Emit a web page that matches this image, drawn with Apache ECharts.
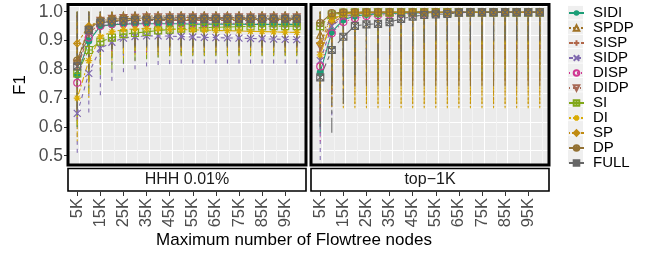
<!DOCTYPE html>
<html><head><meta charset="utf-8">
<script src="https://cdn.jsdelivr.net/npm/echarts@6/dist/echarts.min.js"></script>
<style>html,body{margin:0;padding:0;background:#fff}#c{width:656px;height:254px}</style>
</head><body><div id="c"></div>
<script>
// ---------------- DATA ----------------
const nodesK = [5,10,15,20,25,30,35,40,45,50,55,60,65,70,75,80,85,90,95,100];
const xTickValues = [5,15,25,35,45,55,65,75,85,95];
const xTickLabels = ['5K','15K','25K','35K','45K','55K','65K','75K','85K','95K'];
const yTickValues = [0.5,0.6,0.7,0.8,0.9,1.0];
const yTickLabels = ['0.5','0.6','0.7','0.8','0.9','1.0'];
const panelNames = ['HHH 0.01%','top\u22121K'];
const seriesNames = ['SIDI','SPDP','SISP','SIDP','DISP','DIDP','SI','DI','SP','DP','FULL'];

// HHH 0.01% : mean F1
const hhhMean_SIDI = [0.780,0.898,0.950,0.955,0.957,0.958,0.958,0.958,0.958,0.958,0.957,0.957,0.957,0.957,0.957,0.956,0.956,0.956,0.956,0.956];
const hhhMean_SPDP = [0.830,0.945,0.975,0.980,0.983,0.984,0.985,0.985,0.985,0.985,0.985,0.985,0.985,0.985,0.985,0.985,0.985,0.985,0.985,0.985];
const hhhMean_SISP = [0.800,0.925,0.960,0.966,0.968,0.969,0.970,0.970,0.970,0.970,0.970,0.970,0.970,0.970,0.969,0.969,0.969,0.969,0.969,0.969];
const hhhMean_SIDP = [0.647,0.786,0.873,0.894,0.908,0.914,0.916,0.916,0.915,0.914,0.912,0.911,0.910,0.909,0.908,0.907,0.906,0.905,0.904,0.903];
const hhhMean_DISP = [0.753,0.910,0.950,0.957,0.959,0.960,0.960,0.960,0.960,0.960,0.960,0.960,0.960,0.960,0.959,0.959,0.959,0.959,0.959,0.959];
const hhhMean_DIDP = [0.820,0.935,0.968,0.975,0.978,0.979,0.980,0.980,0.980,0.980,0.980,0.980,0.980,0.980,0.980,0.980,0.980,0.980,0.980,0.980];
const hhhMean_SI   = [0.786,0.867,0.896,0.910,0.922,0.926,0.930,0.935,0.938,0.941,0.943,0.945,0.946,0.947,0.948,0.949,0.949,0.950,0.950,0.950];
const hhhMean_DI   = [0.700,0.830,0.913,0.930,0.938,0.940,0.941,0.940,0.939,0.938,0.937,0.936,0.935,0.934,0.933,0.932,0.931,0.930,0.929,0.928];
const hhhMean_SP   = [0.890,0.950,0.965,0.969,0.971,0.972,0.973,0.973,0.973,0.973,0.973,0.973,0.973,0.973,0.973,0.973,0.973,0.973,0.973,0.973];
const hhhMean_DP   = [0.830,0.940,0.968,0.974,0.976,0.977,0.978,0.978,0.978,0.978,0.978,0.978,0.978,0.978,0.978,0.978,0.978,0.978,0.978,0.978];
const hhhMean_FULL = [0.810,0.935,0.962,0.966,0.968,0.970,0.972,0.973,0.974,0.975,0.975,0.975,0.975,0.975,0.975,0.975,0.975,0.975,0.975,0.975];
// HHH 0.01% : error bar low
const hhhLow_SIDI = [0.600,0.760,0.820,0.840,0.850,0.855,0.860,0.860,0.860,0.860,0.860,0.860,0.860,0.860,0.860,0.860,0.860,0.860,0.860,0.860];
const hhhLow_SPDP = [0.660,0.800,0.860,0.870,0.875,0.880,0.880,0.880,0.880,0.880,0.880,0.880,0.880,0.880,0.880,0.880,0.880,0.880,0.880,0.880];
const hhhLow_SISP = [0.620,0.750,0.820,0.840,0.850,0.855,0.857,0.857,0.857,0.857,0.857,0.857,0.857,0.857,0.857,0.857,0.857,0.857,0.857,0.857];
const hhhLow_SIDP = [0.510,0.650,0.710,0.760,0.790,0.800,0.810,0.815,0.818,0.820,0.820,0.820,0.820,0.820,0.820,0.820,0.820,0.820,0.820,0.820];
const hhhLow_DISP = [0.630,0.780,0.830,0.850,0.860,0.860,0.860,0.860,0.860,0.860,0.860,0.860,0.860,0.860,0.860,0.860,0.860,0.860,0.860,0.860];
const hhhLow_DIDP = [0.650,0.790,0.850,0.860,0.870,0.870,0.870,0.870,0.870,0.870,0.870,0.870,0.870,0.870,0.870,0.870,0.870,0.870,0.870,0.870];
const hhhLow_SI   = [0.600,0.720,0.780,0.800,0.820,0.830,0.835,0.840,0.845,0.845,0.845,0.845,0.845,0.845,0.845,0.845,0.845,0.845,0.845,0.845];
const hhhLow_DI   = [0.550,0.700,0.800,0.830,0.840,0.850,0.850,0.850,0.850,0.850,0.850,0.850,0.850,0.850,0.850,0.850,0.850,0.850,0.850,0.850];
const hhhLow_SP   = [0.720,0.840,0.870,0.880,0.885,0.885,0.885,0.885,0.885,0.885,0.885,0.885,0.885,0.885,0.885,0.885,0.885,0.885,0.885,0.885];
const hhhLow_DP   = [0.660,0.800,0.860,0.870,0.875,0.875,0.875,0.875,0.875,0.875,0.875,0.875,0.875,0.875,0.875,0.875,0.875,0.875,0.875,0.875];
const hhhLow_FULL = [0.640,0.800,0.860,0.870,0.880,0.880,0.880,0.880,0.880,0.880,0.880,0.880,0.880,0.880,0.880,0.880,0.880,0.880,0.880,0.880];
// HHH 0.01% : error bar high
const hhhHigh_SIDI = [1.000,1.000,1.000,1.000,1.000,1.000,1.000,1.000,1.000,1.000,1.000,1.000,1.000,1.000,1.000,1.000,1.000,1.000,1.000,1.000];
const hhhHigh_SPDP = [1.000,1.000,1.000,1.000,1.000,1.000,1.000,1.000,1.000,1.000,1.000,1.000,1.000,1.000,1.000,1.000,1.000,1.000,1.000,1.000];
const hhhHigh_SISP = [1.000,1.000,1.000,1.000,1.000,1.000,1.000,1.000,1.000,1.000,1.000,1.000,1.000,1.000,1.000,1.000,1.000,1.000,1.000,1.000];
const hhhHigh_SIDP = [0.990,0.990,0.990,0.990,0.990,0.990,0.990,0.990,0.990,0.990,0.990,0.990,0.990,0.990,0.990,0.990,0.990,0.990,0.990,0.990];
const hhhHigh_DISP = [1.000,1.000,1.000,1.000,1.000,1.000,1.000,1.000,1.000,1.000,1.000,1.000,1.000,1.000,1.000,1.000,1.000,1.000,1.000,1.000];
const hhhHigh_DIDP = [1.000,1.000,1.000,1.000,1.000,1.000,1.000,1.000,1.000,1.000,1.000,1.000,1.000,1.000,1.000,1.000,1.000,1.000,1.000,1.000];
const hhhHigh_SI   = [1.000,1.000,1.000,1.000,1.000,1.000,1.000,1.000,1.000,1.000,1.000,1.000,1.000,1.000,1.000,1.000,1.000,1.000,1.000,1.000];
const hhhHigh_DI   = [0.995,0.995,0.995,0.995,0.995,0.995,0.995,0.995,0.995,0.995,0.995,0.995,0.995,0.995,0.995,0.995,0.995,0.995,0.995,0.995];
const hhhHigh_SP   = [1.000,1.000,1.000,1.000,1.000,1.000,1.000,1.000,1.000,1.000,1.000,1.000,1.000,1.000,1.000,1.000,1.000,1.000,1.000,1.000];
const hhhHigh_DP   = [1.000,1.000,1.000,1.000,1.000,1.000,1.000,1.000,1.000,1.000,1.000,1.000,1.000,1.000,1.000,1.000,1.000,1.000,1.000,1.000];
const hhhHigh_FULL = [1.000,1.000,1.000,1.000,1.000,1.000,1.000,1.000,1.000,1.000,1.000,1.000,1.000,1.000,1.000,1.000,1.000,1.000,1.000,1.000];

// top-1K : mean F1
const topMean_SIDI = [0.790,0.930,0.972,0.985,0.990,0.992,0.994,0.995,0.996,0.996,0.997,0.997,0.997,0.998,0.998,0.998,0.998,0.998,0.998,0.998];
const topMean_SPDP = [0.920,0.975,0.992,0.996,0.997,0.998,0.998,0.998,0.998,0.998,0.998,0.998,0.998,0.998,0.998,0.998,0.998,0.998,0.998,0.998];
const topMean_SISP = [0.860,0.960,0.985,0.992,0.995,0.996,0.997,0.997,0.998,0.998,0.998,0.998,0.998,0.998,0.998,0.998,0.998,0.998,0.998,0.998];
const topMean_SIDP = [0.830,0.950,0.982,0.990,0.994,0.996,0.997,0.997,0.998,0.998,0.998,0.998,0.998,0.998,0.998,0.998,0.998,0.998,0.998,0.998];
const topMean_DISP = [0.810,0.925,0.964,0.977,0.985,0.988,0.990,0.992,0.993,0.994,0.995,0.996,0.996,0.997,0.997,0.997,0.998,0.998,0.998,0.998];
const topMean_DIDP = [0.880,0.970,0.990,0.995,0.997,0.998,0.998,0.998,0.998,0.998,0.998,0.998,0.998,0.998,0.998,0.998,0.998,0.998,0.998,0.998];
const topMean_SI   = [0.950,0.990,0.997,0.998,0.998,0.998,0.998,0.998,0.998,0.998,0.998,0.998,0.998,0.998,0.998,0.998,0.998,0.998,0.998,0.998];
const topMean_DI   = [0.850,0.970,0.992,0.996,0.997,0.998,0.998,0.998,0.998,0.998,0.998,0.998,0.998,0.998,0.998,0.998,0.998,0.998,0.998,0.998];
const topMean_SP   = [0.890,0.985,0.997,0.998,0.998,0.998,0.998,0.998,0.998,0.998,0.998,0.998,0.998,0.998,0.998,0.998,0.998,0.998,0.998,0.998];
const topMean_DP   = [0.960,0.995,0.998,0.999,0.999,0.999,0.999,0.999,0.999,0.999,0.999,0.999,0.999,0.999,0.999,0.999,0.999,0.999,0.999,0.999];
const topMean_FULL = [0.772,0.867,0.913,0.951,0.956,0.958,0.964,0.975,0.983,0.989,0.991,0.992,0.997,0.998,0.998,0.998,0.998,0.998,0.998,0.998];
// top-1K : error bar low
const topLow_SIDI = [0.580,0.760,0.840,0.860,0.870,0.880,0.880,0.880,0.885,0.890,0.890,0.890,0.890,0.890,0.890,0.890,0.890,0.890,0.890,0.890];
const topLow_SPDP = [0.700,0.740,0.780,0.800,0.800,0.800,0.800,0.800,0.800,0.800,0.800,0.800,0.800,0.800,0.800,0.800,0.800,0.800,0.800,0.800];
const topLow_SISP = [0.620,0.720,0.800,0.820,0.830,0.830,0.830,0.830,0.830,0.830,0.830,0.830,0.830,0.830,0.830,0.830,0.830,0.830,0.830,0.830];
const topLow_SIDP = [0.485,0.640,0.720,0.740,0.750,0.760,0.760,0.760,0.760,0.760,0.760,0.760,0.760,0.760,0.760,0.760,0.760,0.760,0.760,0.760];
const topLow_DISP = [0.550,0.700,0.800,0.830,0.840,0.850,0.850,0.850,0.850,0.850,0.850,0.850,0.850,0.850,0.850,0.850,0.850,0.850,0.850,0.850];
const topLow_DIDP = [0.640,0.740,0.790,0.810,0.820,0.820,0.820,0.820,0.820,0.820,0.820,0.820,0.820,0.820,0.820,0.820,0.820,0.820,0.820,0.820];
const topLow_SI   = [0.740,0.760,0.780,0.780,0.780,0.780,0.780,0.780,0.780,0.780,0.780,0.780,0.780,0.780,0.780,0.780,0.780,0.780,0.780,0.780];
const topLow_DI   = [0.680,0.670,0.665,0.665,0.665,0.665,0.665,0.665,0.665,0.665,0.665,0.665,0.665,0.665,0.665,0.665,0.665,0.665,0.665,0.665];
const topLow_SP   = [0.700,0.670,0.670,0.670,0.670,0.670,0.670,0.670,0.670,0.670,0.670,0.670,0.670,0.670,0.670,0.670,0.670,0.670,0.670,0.670];
const topLow_DP   = [0.720,0.730,0.740,0.740,0.740,0.740,0.740,0.740,0.740,0.740,0.740,0.740,0.740,0.740,0.740,0.740,0.740,0.740,0.740,0.740];
const topLow_FULL = [0.600,0.580,0.680,0.780,0.820,0.840,0.850,0.860,0.880,0.890,0.900,0.900,0.900,0.900,0.900,0.900,0.900,0.900,0.900,0.900];
// top-1K : error bar high
const topHigh_SIDI = [1.000,1.000,1.000,1.000,1.000,1.000,1.000,1.000,1.000,1.000,1.000,1.000,1.000,1.000,1.000,1.000,1.000,1.000,1.000,1.000];
const topHigh_SPDP = [1.000,1.000,1.000,1.000,1.000,1.000,1.000,1.000,1.000,1.000,1.000,1.000,1.000,1.000,1.000,1.000,1.000,1.000,1.000,1.000];
const topHigh_SISP = [1.000,1.000,1.000,1.000,1.000,1.000,1.000,1.000,1.000,1.000,1.000,1.000,1.000,1.000,1.000,1.000,1.000,1.000,1.000,1.000];
const topHigh_SIDP = [1.000,1.000,1.000,1.000,1.000,1.000,1.000,1.000,1.000,1.000,1.000,1.000,1.000,1.000,1.000,1.000,1.000,1.000,1.000,1.000];
const topHigh_DISP = [1.000,1.000,1.000,1.000,1.000,1.000,1.000,1.000,1.000,1.000,1.000,1.000,1.000,1.000,1.000,1.000,1.000,1.000,1.000,1.000];
const topHigh_DIDP = [1.000,1.000,1.000,1.000,1.000,1.000,1.000,1.000,1.000,1.000,1.000,1.000,1.000,1.000,1.000,1.000,1.000,1.000,1.000,1.000];
const topHigh_SI   = [1.000,1.000,1.000,1.000,1.000,1.000,1.000,1.000,1.000,1.000,1.000,1.000,1.000,1.000,1.000,1.000,1.000,1.000,1.000,1.000];
const topHigh_DI   = [1.000,1.000,1.000,1.000,1.000,1.000,1.000,1.000,1.000,1.000,1.000,1.000,1.000,1.000,1.000,1.000,1.000,1.000,1.000,1.000];
const topHigh_SP   = [1.000,1.000,1.000,1.000,1.000,1.000,1.000,1.000,1.000,1.000,1.000,1.000,1.000,1.000,1.000,1.000,1.000,1.000,1.000,1.000];
const topHigh_DP   = [1.000,1.000,1.000,1.000,1.000,1.000,1.000,1.000,1.000,1.000,1.000,1.000,1.000,1.000,1.000,1.000,1.000,1.000,1.000,1.000];
const topHigh_FULL = [1.000,1.000,1.000,1.000,1.000,1.000,1.000,1.000,1.000,1.000,1.000,1.000,1.000,1.000,1.000,1.000,1.000,1.000,1.000,1.000];

// ---------------- STYLE ----------------
const panelData = [
  {
    mean: {SIDI:hhhMean_SIDI,SPDP:hhhMean_SPDP,SISP:hhhMean_SISP,SIDP:hhhMean_SIDP,DISP:hhhMean_DISP,DIDP:hhhMean_DIDP,SI:hhhMean_SI,DI:hhhMean_DI,SP:hhhMean_SP,DP:hhhMean_DP,FULL:hhhMean_FULL},
    low:  {SIDI:hhhLow_SIDI,SPDP:hhhLow_SPDP,SISP:hhhLow_SISP,SIDP:hhhLow_SIDP,DISP:hhhLow_DISP,DIDP:hhhLow_DIDP,SI:hhhLow_SI,DI:hhhLow_DI,SP:hhhLow_SP,DP:hhhLow_DP,FULL:hhhLow_FULL},
    high: {SIDI:hhhHigh_SIDI,SPDP:hhhHigh_SPDP,SISP:hhhHigh_SISP,SIDP:hhhHigh_SIDP,DISP:hhhHigh_DISP,DIDP:hhhHigh_DIDP,SI:hhhHigh_SI,DI:hhhHigh_DI,SP:hhhHigh_SP,DP:hhhHigh_DP,FULL:hhhHigh_FULL}
  },
  {
    mean: {SIDI:topMean_SIDI,SPDP:topMean_SPDP,SISP:topMean_SISP,SIDP:topMean_SIDP,DISP:topMean_DISP,DIDP:topMean_DIDP,SI:topMean_SI,DI:topMean_DI,SP:topMean_SP,DP:topMean_DP,FULL:topMean_FULL},
    low:  {SIDI:topLow_SIDI,SPDP:topLow_SPDP,SISP:topLow_SISP,SIDP:topLow_SIDP,DISP:topLow_DISP,DIDP:topLow_DIDP,SI:topLow_SI,DI:topLow_DI,SP:topLow_SP,DP:topLow_DP,FULL:topLow_FULL},
    high: {SIDI:topHigh_SIDI,SPDP:topHigh_SPDP,SISP:topHigh_SISP,SIDP:topHigh_SIDP,DISP:topHigh_DISP,DIDP:topHigh_DIDP,SI:topHigh_SI,DI:topHigh_DI,SP:topHigh_SP,DP:topHigh_DP,FULL:topHigh_FULL}
  }
];

const T = 'rgba(0,0,0,0)';
const styles = {
  SIDI: {color:'#1B9E77', dash:'solid',            symbol:'circle', fill:true},
  SPDP: {color:'#A07225', dash:[2,2],              symbol:'triangle', fill:false},
  SISP: {color:'#B16649', dash:[4,2],              symbol:'path://M5,0L5,10M0,5L10,5', fill:false},
  SIDP: {color:'#8069AF', dash:[4,4],              symbol:'path://M0,0L10,10M10,0L0,10', fill:false},
  DISP: {color:'#D03792', dash:[1,3],              symbol:'circle', fill:false},
  DIDP: {color:'#A76854', dash:[1,3,4,3],          symbol:'path://M0,0L10,0L5,8.66Z', fill:false},
  SI:   {color:'#80A718', dash:[7,3],              symbol:'path://M0,0L10,0L10,10L0,10Z M5,0L5,10M0,5L10,5', fill:false},
  DI:   {color:'#D9AB05', dash:[2,2,6,2],          symbol:'path://M5,0L5,10M0,5L10,5M1.5,1.5L8.5,8.5M8.5,1.5L1.5,8.5', fill:false},
  SP:   {color:'#C08B12', dash:[1,2,2,2,3,2,4,2],  symbol:'path://M5,0L10,5L5,10L0,5Z M5,0L5,10M0,5L10,5', fill:false},
  DP:   {color:'#937133', dash:[15,2,8,2],         symbol:'path://M0,5A5,5 0 1,0 10,5A5,5 0 1,0 0,5Z M5,0L5,10M0,5L10,5', fill:false},
  FULL: {color:'#666666', dash:[15,4,4,4,8,4,4,4], symbol:'path://M0,0L10,0L10,10L0,10Z M0,0L10,10M10,0L0,10', fill:false}
};

const grids = [
  {left:68, top:4.5, width:238, height:160.5},
  {left:311, top:4.5, width:238, height:160.5}
];
const X_MIN = 1, X_MAX = 104, Y_MIN = 0.4677, Y_MAX = 1.025;
const FONT = 'Liberation Sans, Arial, Helvetica, sans-serif';
const LEG_TOP = 5.5, LEG_STEP = 14.4;

const xAxes = [], yAxes = [], series = [];
grids.forEach((g, gi) => {
  xAxes.push({type:'value', gridIndex:gi, min:X_MIN, max:X_MAX, interval:5,
    axisLine:{show:false}, axisTick:{show:false}, axisLabel:{show:false},
    splitLine:{show:true, lineStyle:{color:['#F4F4F4','#FFFFFF'], width:1}}});
  xAxes.push({type:'value', gridIndex:gi, min:X_MIN, max:X_MAX, position:'bottom', offset:27,
    axisLine:{show:false},
    axisTick:{show:true, customValues:xTickValues, length:4, lineStyle:{color:'#333333', width:1}},
    axisLabel:{show:true, customValues:xTickValues, rotate:90, margin:6, fontSize:16.5, color:'#4D4D4D', fontFamily:FONT,
      formatter:(v)=>{const i = xTickValues.indexOf(Math.round(v)); return i>=0 ? xTickLabels[i] : '';}},
    splitLine:{show:false}});
  yAxes.push({type:'value', gridIndex:gi, min:Y_MIN, max:Y_MAX, interval:0.05,
    axisLine:{show:false}, axisTick:{show:false}, axisLabel:{show:false},
    splitLine:{show:true, lineStyle:{color:['#F4F4F4','#FFFFFF'], width:1}}});
  yAxes.push({type:'value', gridIndex:gi, min:Y_MIN, max:Y_MAX, position:'left',
    axisLine:{show:false},
    axisTick:{show:gi===0, customValues:yTickValues, length:4, lineStyle:{color:'#333333', width:1}},
    axisLabel:{show:gi===0, customValues:yTickValues, margin:5, fontSize:17.5, color:'#4D4D4D', fontFamily:FONT,
      formatter:(v)=>{let i=-1; yTickValues.forEach((t,k)=>{if(Math.abs(t-v)<1e-6) i=k;}); return i>=0 ? yTickLabels[i] : '';}},
    splitLine:{show:false}});
});

grids.forEach((g, gi) => {
  const pd = panelData[gi];
  const xi = gi*2, yi = gi*2;
  seriesNames.forEach((name) => {
    const st = styles[name];
    const lo = pd.low[name], hi = pd.high[name];
    series.push({
      type:'custom', name:name+' err', xAxisIndex:xi, yAxisIndex:yi, silent:true, z:1, clip:true,
      data: nodesK.map((x,i)=>[x, lo[i], hi[i]]),
      encode:{x:0, y:[1,2]},
      renderItem:(params, api)=>{
        const a = api.coord([api.value(0), api.value(1)]);
        const b = api.coord([api.value(0), api.value(2)]);
        return {type:'line', shape:{x1:a[0], y1:a[1], x2:b[0], y2:b[1]},
          style:{stroke:st.color, lineWidth:1.1, lineDash: st.dash==='solid'? null : st.dash, opacity:0.95}};
      }
    });
  });
  seriesNames.forEach((name) => {
    const st = styles[name];
    const m = pd.mean[name];
    series.push({
      type:'line', name:name, xAxisIndex:xi, yAxisIndex:yi, z:3,
      data: nodesK.map((x,i)=>[x, m[i]]),
      symbol: st.symbol, symbolSize:7, showSymbol:true,
      lineStyle:{color:st.color, width:1.1, type:st.dash},
      itemStyle:{color: st.fill ? st.color : T, borderColor: st.color, borderWidth: st.fill?0:1.2},
      emphasis:{disabled:true}
    });
  });
});

const graphics = [];
grids.forEach((g, gi) => {
  graphics.push({type:'rect', z:100, shape:{x:g.left, y:g.top, width:g.width, height:g.height},
    style:{fill:'none', stroke:'#000', lineWidth:3}});
  graphics.push({type:'rect', z:100, shape:{x:g.left, y:168.5, width:g.width, height:22.5},
    style:{fill:'#fff', stroke:'#000', lineWidth:1.6}});
  graphics.push({type:'text', z:101, x:g.left + g.width/2, y:180,
    style:{text:panelNames[gi], fill:'#1A1A1A', font:'16px '+FONT, textAlign:'center', textVerticalAlign:'middle'}});
});
graphics.push({type:'text', z:101, x:294, y:240,
  style:{text:'Maximum number of Flowtree nodes', fill:'#000', font:'17px '+FONT, textAlign:'center', textVerticalAlign:'middle'}});
graphics.push({type:'text', z:101, x:20, y:85, rotation:Math.PI/2,
  style:{text:'F1', fill:'#000', font:'17px '+FONT, textAlign:'center', textVerticalAlign:'middle'}});
seriesNames.forEach((n, i) => {
  graphics.push({type:'rect', z:0, shape:{x:568, y:LEG_TOP + 0.4 + i*LEG_STEP, width:15, height:13.6}, style:{fill:'#EFEFEF'}});
});

const chart = echarts.init(document.getElementById('c'), null, {renderer:'canvas'});
chart.setOption({
  animation:false,
  backgroundColor:'#FFFFFF',
  grid: grids.map(g=>({left:g.left, top:g.top, width:g.width, height:g.height, show:true, backgroundColor:'#EBEBEB', borderWidth:0, containLabel:false})),
  xAxis: xAxes,
  yAxis: yAxes,
  legend: {orient:'vertical', left:568, top:LEG_TOP, itemWidth:15, itemHeight:7, itemGap:0, padding:0,
    data: seriesNames, selectedMode:false,
    textStyle:{fontSize:15, color:'#000', fontFamily:FONT, lineHeight:LEG_STEP, padding:[0,0,0,4]}},
  series: series,
  graphic: {elements: graphics}
});
</script>
</body></html>
